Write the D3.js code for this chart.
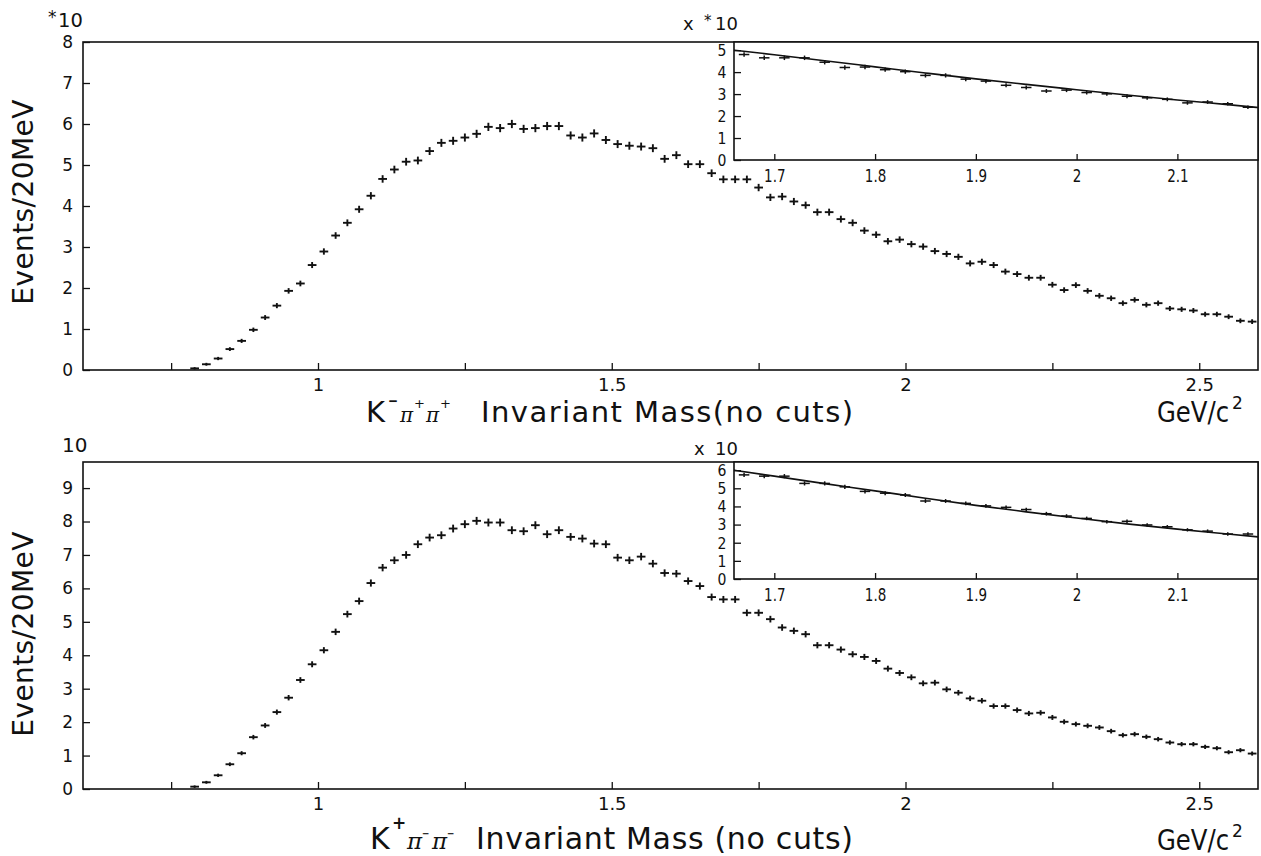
<!DOCTYPE html>
<html>
<head>
<meta charset="utf-8">
<script src="https://cdn.jsdelivr.net/npm/d3@7"></script>
<style>
  body { margin: 0; background: #fff; }
  svg { display: block; }
  text { font-family: "DejaVu Sans", sans-serif; fill: #111; }
</style>
</head>
<body>
<svg id="chart" width="1261" height="856"></svg>
<script>
// Bin centres of the 20 MeV mass histogram (GeV/c^2)
const massCenters = [
  0.79, 0.81, 0.83, 0.85, 0.87, 0.89, 0.91, 0.93, 0.95, 0.97,
  0.99, 1.01, 1.03, 1.05, 1.07, 1.09, 1.11, 1.13, 1.15, 1.17,
  1.19, 1.21, 1.23, 1.25, 1.27, 1.29, 1.31, 1.33, 1.35, 1.37,
  1.39, 1.41, 1.43, 1.45, 1.47, 1.49, 1.51, 1.53, 1.55, 1.57,
  1.59, 1.61, 1.63, 1.65, 1.67, 1.69, 1.71, 1.73, 1.75, 1.77,
  1.79, 1.81, 1.83, 1.85, 1.87, 1.89, 1.91, 1.93, 1.95, 1.97,
  1.99, 2.01, 2.03, 2.05, 2.07, 2.09, 2.11, 2.13, 2.15, 2.17,
  2.19, 2.21, 2.23, 2.25, 2.27, 2.29, 2.31, 2.33, 2.35, 2.37,
  2.39, 2.41, 2.43, 2.45, 2.47, 2.49, 2.51, 2.53, 2.55, 2.57,
  2.59
];

// K- pi+ pi+ events per bin (axis units, x10)
const kmPipPip = [
  0.04, 0.14, 0.28, 0.51, 0.71, 0.98, 1.28, 1.57, 1.93, 2.11,
  2.56, 2.89, 3.28, 3.59, 3.92, 4.25, 4.66, 4.89, 5.08, 5.11,
  5.34, 5.54, 5.59, 5.67, 5.76, 5.93, 5.90, 6.00, 5.88, 5.90,
  5.95, 5.95, 5.72, 5.67, 5.77, 5.61, 5.51, 5.47, 5.45, 5.41,
  5.15, 5.24, 5.02, 5.02, 4.80, 4.65, 4.65, 4.65, 4.45, 4.21,
  4.23, 4.11, 4.02, 3.85, 3.85, 3.68, 3.59, 3.40, 3.30, 3.14,
  3.18, 3.07, 3.01, 2.90, 2.83, 2.76, 2.60, 2.64, 2.56, 2.40,
  2.34, 2.25, 2.25, 2.08, 1.95, 2.07, 1.93, 1.81, 1.75, 1.63,
  1.71, 1.59, 1.63, 1.50, 1.48, 1.45, 1.36, 1.36, 1.30, 1.20,
  1.18
];

// K+ pi- pi- events per bin (axis units)
const kpPimPim = [
  0.07, 0.20, 0.41, 0.74, 1.07, 1.55, 1.90, 2.30, 2.73, 3.26,
  3.73, 4.15, 4.70, 5.23, 5.62, 6.16, 6.62, 6.84, 7.00, 7.32,
  7.52, 7.59, 7.79, 7.92, 8.02, 7.97, 7.97, 7.74, 7.71, 7.89,
  7.62, 7.74, 7.54, 7.49, 7.34, 7.32, 6.92, 6.84, 6.95, 6.74,
  6.46, 6.44, 6.22, 6.07, 5.74, 5.67, 5.67, 5.27, 5.27, 5.08,
  4.83, 4.73, 4.63, 4.30, 4.30, 4.17, 4.03, 3.95, 3.83, 3.60,
  3.47, 3.34, 3.16, 3.18, 2.98, 2.88, 2.71, 2.64, 2.48, 2.48,
  2.36, 2.26, 2.28, 2.14, 2.01, 1.94, 1.89, 1.84, 1.73, 1.61,
  1.64, 1.56, 1.49, 1.39, 1.34, 1.34, 1.26, 1.22, 1.10, 1.16,
  1.06
];

// Background fit curves shown in the high-mass insets
const fitMass = [1.66, 1.70, 1.75, 1.80, 1.85, 1.90, 1.95, 2.00, 2.05, 2.10, 2.15, 2.18];
const kmFit   = [5.00, 4.79, 4.52, 4.24, 3.96, 3.69, 3.44, 3.20, 2.96, 2.73, 2.52, 2.39];
const kpFit   = [6.00, 5.67, 5.26, 4.86, 4.45, 4.06, 3.70, 3.36, 3.04, 2.75, 2.48, 2.32];

// Axis ticks
const massTicks      = [0.75, 1, 1.25, 1.5, 1.75, 2, 2.25, 2.5];
const massTickLabels = [1, 1.5, 2, 2.5];
const insetTicks     = [1.7, 1.8, 1.9, 2, 2.1];
const topYTicks      = [0, 1, 2, 3, 4, 5, 6, 7, 8];
const bottomYTicks   = [0, 1, 2, 3, 4, 5, 6, 7, 8, 9];
const topInsetYTicks    = [0, 1, 2, 3, 4, 5];
const bottomInsetYTicks = [0, 1, 2, 3, 4, 5, 6];

const massRange  = [0.6, 2.6];
const insetRange = [1.66, 2.18];
const eventScale = 1000;   // axis unit -> raw events, for Poisson error bars

const svg = d3.select("#chart");
const INK = "#111";

function poissonErr(v) { return Math.sqrt(Math.max(v, 0) * eventScale) / eventScale; }

// squeeze tick labels horizontally around their anchor
function condense(sel, factor) {
  sel.attr("transform", `scale(${factor},1)`);
}

function drawFrame(g, p, fill) {
  g.append("rect")
    .attr("x", p.left).attr("y", p.top)
    .attr("width", p.right - p.left).attr("height", p.bottom - p.top)
    .attr("fill", fill || "none").attr("stroke", INK).attr("stroke-width", 1.6);
}

function drawAxes(g, p, x, y, o) {
  // inward ticks along the mass axis
  const xt = g.append("g").attr("transform", `translate(0,${p.bottom})`)
    .call(d3.axisBottom(x).tickValues(o.xTicks).tickSize(-o.xTickLen).tickFormat(""));
  xt.select(".domain").remove();
  xt.selectAll("line").attr("stroke", INK).attr("stroke-width", 1.3);

  const xl = g.append("g").attr("transform", `translate(0,${p.bottom})`)
    .call(d3.axisBottom(x).tickValues(o.xLabels).tickSize(0).tickPadding(o.xPad)
      .tickFormat(d3.format("")));
  xl.select(".domain").remove();
  xl.selectAll("text").attr("font-size", o.xFont).attr("fill", INK)
    .style("font-family", "'DejaVu Sans', sans-serif");
  if (o.xCondense) condense(xl.selectAll("text"), o.xCondense);

  const yt = g.append("g").attr("transform", `translate(${p.left},0)`)
    .call(d3.axisLeft(y).tickValues(o.yTicks).tickSize(-o.yTickLen).tickPadding(o.yPad)
      .tickFormat(d3.format("d")));
  yt.select(".domain").remove();
  yt.selectAll("line").attr("stroke", INK).attr("stroke-width", 1.3);
  yt.selectAll("text").attr("font-size", o.yFont).attr("fill", INK)
    .style("font-family", "'DejaVu Sans', sans-serif");
  if (o.yCondense) condense(yt.selectAll("text"), o.yCondense);
}

function drawPoints(g, data, x, y, halfW, sw) {
  const pts = g.append("g").attr("stroke", INK).attr("stroke-width", sw).attr("stroke-linecap", "square")
    .selectAll("g").data(data).join("g");
  pts.append("line")
    .attr("x1", d => x(d.m) - halfW).attr("x2", d => x(d.m) + halfW)
    .attr("y1", d => y(d.v)).attr("y2", d => y(d.v));
  pts.append("line")
    .attr("x1", d => x(d.m)).attr("x2", d => x(d.m))
    .attr("y1", d => y(d.v - poissonErr(d.v))).attr("y2", d => y(d.v + poissonErr(d.v)));
}

function drawPanel(cfg) {
  const g = svg.append("g");
  const p = cfg.main;
  const x = d3.scaleLinear().domain(massRange).range([p.left, p.right]);
  const y = d3.scaleLinear().domain([0, cfg.yTop]).range([p.bottom, p.top]);
  const data = massCenters.map((m, i) => ({ m, v: cfg.values[i] }));

  drawFrame(g, p);
  drawAxes(g, p, x, y, {
    xTicks: massTicks, xLabels: massTickLabels, xTickLen: 7, xPad: 8, xFont: 18,
    yTicks: cfg.yTicks, yTickLen: 7, yPad: 10, yFont: 17
  });
  drawPoints(g, data, x, y, 3.4, 1.9);

  // high-mass inset with fit
  const q = cfg.inset;
  const xi = d3.scaleLinear().domain(insetRange).range([q.left, q.right]);
  const yi = d3.scaleLinear().domain([0, cfg.insetYTop]).range([q.bottom, q.top]);
  const gi = svg.append("g");
  drawFrame(gi, q, "#fff");
  drawAxes(gi, q, xi, yi, {
    xTicks: insetTicks, xLabels: insetTicks, xTickLen: 6, xPad: 9, xFont: 18, xCondense: 0.75,
    yTicks: cfg.insetYTicks, yTickLen: 7, yPad: 9, yFont: 16.5, yCondense: 0.85
  });
  const inData = data.filter(d => d.m > insetRange[0] && d.m < insetRange[1]);
  drawPoints(gi, inData, xi, yi, 4.5, 1.5);
  const fitPts = fitMass.map((m, i) => [m, cfg.fit[i]]);
  gi.append("path")
    .attr("d", d3.line().x(d => xi(d[0])).y(d => yi(d[1])).curve(d3.curveMonotoneX)(fitPts))
    .attr("fill", "none").attr("stroke", INK).attr("stroke-width", 1.6);
}

drawPanel({
  main:  { left: 83, right: 1258, top: 42, bottom: 370 },
  inset: { left: 734, right: 1258, top: 42, bottom: 160 },
  yTop: 8, yTicks: topYTicks, values: kmPipPip,
  insetYTop: 5.37, insetYTicks: topInsetYTicks, fit: kmFit
});

drawPanel({
  main:  { left: 83, right: 1258, top: 462, bottom: 789 },
  inset: { left: 734, right: 1258, top: 462, bottom: 579 },
  yTop: 9.78, yTicks: bottomYTicks, values: kpPimPim,
  insetYTop: 6.45, insetYTicks: bottomInsetYTicks, fit: kpFit
});

// ---- text labels ----
// opts.width: stretch to a target width with letter spacing; opts.sx: horizontal squeeze
function label(txt, x, y, size, opts) {
  opts = opts || {};
  const t = svg.append("text").attr("font-size", size).text(txt);
  if (opts.italic) t.attr("font-style", "italic");
  if (opts.family) t.style("font-family", opts.family);
  if (opts.weight) t.attr("font-weight", opts.weight);
  if (opts.sx) {
    t.attr("transform", `translate(${x},${y}) scale(${opts.sx},1)`);
  } else {
    t.attr("x", x).attr("y", y);
  }
  if (opts.width) {
    const w = t.node().getComputedTextLength();
    const n = Math.max(txt.length - 1, 1);
    t.attr("letter-spacing", ((opts.width - w) / n).toFixed(2));
  }
  return t;
}

// axis multipliers
label("*", 48, 23, 17);
label("10", 58, 27, 19.5);
label("10", 62, 452, 20);
label("x", 683, 30, 18);
label("*", 704, 26, 15);
label("10", 715, 30, 18);
label("x", 694, 455, 18);
label("10", 715, 455, 18);

// y titles
[202, 634].forEach(cy => {
  const t = svg.append("text")
    .attr("transform", `translate(33,${cy}) rotate(-90)`)
    .attr("text-anchor", "middle").attr("font-size", 28)
    .text("Events/20MeV");
  const w = t.node().getComputedTextLength();
  t.attr("letter-spacing", ((205 - w) / 11).toFixed(2));
});

// x titles
const PI = "'DejaVu Serif', serif";
label("K", 366, 422, 29);
label("−", 388, 406, 15, { weight: "bold", sx: 0.8 });
label("π", 400, 422, 20, { italic: true, family: PI });
label("+", 414, 408, 13);
label("π", 426, 422, 20, { italic: true, family: PI });
label("+", 440, 408, 13);
label("Invariant Mass(no cuts)", 481, 422, 29, { width: 372 });
label("GeV/c", 1157, 422, 28, { sx: 0.87 });
label("2", 1232, 409, 17);

label("K", 370, 849, 30);
label("+", 392, 829, 17, { weight: "bold" });
label("π", 407, 849, 23, { italic: true, family: PI });
label("−", 422, 838, 13, { sx: 0.7 });
label("π", 432, 849, 23, { italic: true, family: PI });
label("−", 447, 838, 13, { sx: 0.7 });
label("Invariant Mass (no cuts)", 476, 849, 30, { width: 377 });
label("GeV/c", 1157, 850, 28, { sx: 0.87 });
label("2", 1232, 837, 17);
</script>
</body>
</html>
